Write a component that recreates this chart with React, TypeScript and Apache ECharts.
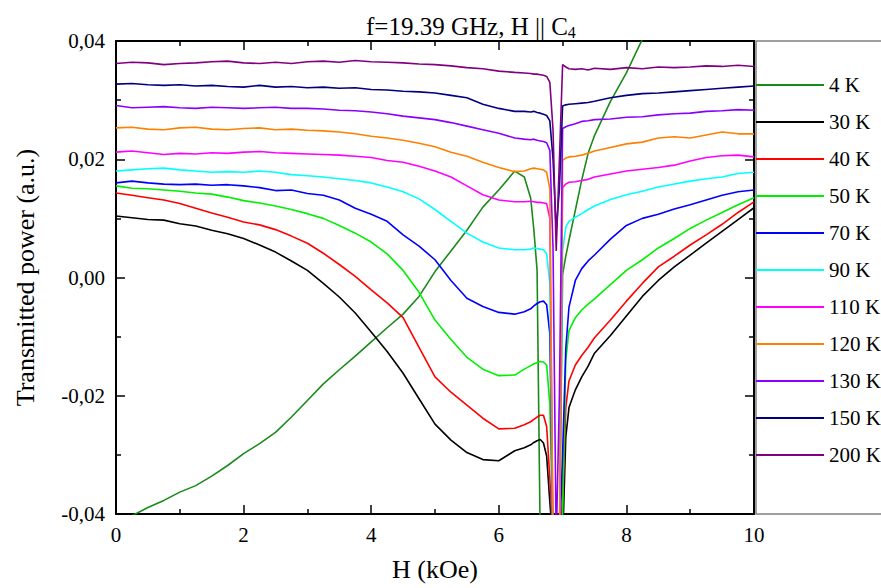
import React, { useEffect, useRef } from "react";
import * as echarts from "echarts";

// Magnetic field H (kOe)
const H = [
  0, 0.25, 0.5, 0.75, 1,
  1.25, 1.5, 1.75, 2, 2.25,
  2.5, 2.75, 3, 3.25, 3.5,
  3.75, 4, 4.25, 4.5, 4.75,
  5, 5.25, 5.5, 5.75, 6,
  6.25,
  6.4, 6.5, 6.55, 6.6, 6.65, 6.7, 6.75, 6.8, 6.85, 6.9, 6.95, 7, 7.05, 7.1,
  7.2, 7.3, 7.4, 7.5,
  7.75, 8, 8.25, 8.5, 8.75, 9, 9.25, 9.5, 9.75, 10,
];

const T4 = [
  -0.0425, -0.0403, -0.0389, -0.0377, -0.0363,
  -0.0352, -0.0336, -0.0318, -0.0298, -0.0281,
  -0.0262, -0.0236, -0.0208, -0.018, -0.0156,
  -0.0133, -0.0109, -0.0085, -0.0062, -0.0032,
  0.001, 0.0045, 0.008, 0.0119, 0.0148,
  0.018,
  0.017, 0.0134, 0.008, 0.0012, -0.045, -0.045, -0.045, -0.045, -0.045, -0.045, -0.045, 0.0005, 0.0036, 0.0063,
  0.0114, 0.0165, 0.021, 0.024,
  0.0298, 0.0346, 0.0403, 0.046, null, null, null, null, null, null,
];
const T30 = [
  0.0104, 0.0101, 0.0098, 0.0097, 0.0091,
  0.0087, 0.008, 0.0074, 0.0066, 0.0055,
  0.0043, 0.0028, 0.0012, -0.001, -0.0033,
  -0.006, -0.0092, -0.0125, -0.0162, -0.0205,
  -0.0248, -0.0275, -0.0296, -0.0308, -0.031,
  -0.0293,
  -0.0288, -0.0283, -0.0279, -0.0276, -0.0274, -0.028, -0.0302, -0.038, -0.045, -0.045, -0.045, -0.045, -0.027, -0.022,
  -0.019, -0.0168, -0.015, -0.0128,
  -0.0098, -0.0065, -0.0032, -0.0005, 0.0018, 0.0038, 0.0058, 0.0078, 0.0098, 0.0118,
];
const T40 = [
  0.0143, 0.0139, 0.0135, 0.0131, 0.0125,
  0.0117, 0.0109, 0.0102, 0.0094, 0.0089,
  0.0081, 0.007, 0.0058, 0.0041, 0.0022,
  0.0002, -0.0021, -0.0043, -0.0068, -0.0118,
  -0.0168, -0.0194, -0.0216, -0.0238, -0.0256,
  -0.0255,
  -0.0249, -0.0244, -0.024, -0.0236, -0.0233, -0.0233, -0.0252, -0.034, -0.045, -0.045, -0.045, -0.038, -0.022, -0.0175,
  -0.0148, -0.0132, -0.0118, -0.0102,
  -0.0072, -0.004, -0.001, 0.0018, 0.0036, 0.0055, 0.0072, 0.009, 0.011, 0.0128,
];
const T50 = [
  0.0155, 0.0151, 0.015, 0.0148, 0.0146,
  0.0143, 0.0141, 0.0136, 0.013, 0.0126,
  0.0121, 0.0115, 0.0108, 0.01, 0.0088,
  0.0075, 0.006, 0.004, 0.0012, -0.0025,
  -0.0072, -0.0105, -0.0135, -0.0155, -0.0166,
  -0.0165,
  -0.0155, -0.0149, -0.0146, -0.0144, -0.0142, -0.0143, -0.0148, -0.0215, -0.045, -0.045, -0.045, -0.04, -0.014, -0.009,
  -0.0068, -0.0055, -0.0045, -0.0036,
  -0.0012, 0.0012, 0.003, 0.005, 0.0066, 0.0083, 0.0097, 0.011, 0.0123, 0.0135,
];
const T70 = [
  0.016, 0.0163, 0.016, 0.0158, 0.0157,
  0.0158, 0.0156, 0.0157, 0.0155, 0.0152,
  0.0147, 0.0148, 0.0142, 0.0139, 0.0131,
  0.0117, 0.0107, 0.0095, 0.0072, 0.0053,
  0.003, -0.0005, -0.0035, -0.0049, -0.0059,
  -0.0062,
  -0.0058, -0.0053, -0.0048, -0.0044, -0.0041, -0.004, -0.0046, -0.0095, -0.045, -0.045, -0.045, -0.03, -0.012, -0.005,
  -0.0005, 0.0015, 0.0028, 0.0038,
  0.0065, 0.0088, 0.01, 0.0107, 0.0116, 0.0123, 0.0131, 0.0139, 0.0145, 0.0148,
];
const T90 = [
  0.018, 0.0182, 0.0184, 0.0185, 0.0182,
  0.018, 0.0178, 0.0179, 0.0178, 0.018,
  0.0178, 0.0174, 0.0172, 0.017, 0.0167,
  0.0164, 0.016, 0.0153, 0.0145, 0.0133,
  0.0115, 0.0095, 0.0075, 0.006, 0.005,
  0.0047,
  0.0047, 0.0048, 0.005, 0.0049, 0.0048, 0.0047, 0.004, -0.001, -0.045, -0.045, -0.045, 0.0045, 0.0085, 0.0095,
  0.0102, 0.0108, 0.0115, 0.0121,
  0.0132, 0.014, 0.0146, 0.0153, 0.0158, 0.0163, 0.0167, 0.017, 0.0176, 0.0178,
];
const T110 = [
  0.0212, 0.0214, 0.0211, 0.0208, 0.021,
  0.0209, 0.0211, 0.021, 0.0212, 0.0213,
  0.0211, 0.021, 0.0209, 0.0208, 0.0207,
  0.0205, 0.0203, 0.0198, 0.0195, 0.0188,
  0.018, 0.017, 0.0155, 0.014, 0.0131,
  0.0128,
  0.0128, 0.0129, 0.0128, 0.0127, 0.0127, 0.0126, 0.0125, 0.01, -0.045, -0.045, -0.045, 0.0152, 0.0158, 0.0161,
  0.0162, 0.0164, 0.0166, 0.017,
  0.0175, 0.018, 0.0183, 0.0186, 0.019, 0.0197, 0.0203, 0.0206, 0.0207, 0.0204,
];
const T120 = [
  0.0253, 0.0254, 0.0251, 0.025, 0.0253,
  0.0254, 0.0251, 0.025, 0.0252, 0.0253,
  0.025, 0.0251, 0.0249, 0.0248, 0.0246,
  0.0243, 0.0239, 0.0236, 0.0232, 0.0227,
  0.0221, 0.0212, 0.0205, 0.0195, 0.0186,
  0.0179,
  0.018, 0.0184, 0.0185, 0.0184, 0.0183, 0.0182, 0.0178, 0.015, -0.045, -0.045, -0.045, 0.0198, 0.0202, 0.0204,
  0.0205, 0.0207, 0.021, 0.0214,
  0.022, 0.0226, 0.0229, 0.0236, 0.0238, 0.0236, 0.0241, 0.0246, 0.0243, 0.0243,
];
const T130 = [
  0.0291, 0.0287, 0.0288, 0.0289, 0.0287,
  0.0286, 0.0288, 0.0287, 0.0286, 0.0287,
  0.0288, 0.0286, 0.0286, 0.0285, 0.0283,
  0.0282, 0.028, 0.0277, 0.0273, 0.027,
  0.0267, 0.0262, 0.0256, 0.025, 0.0244,
  0.0236,
  0.0234, 0.0233, 0.0234, 0.0232, 0.0231, 0.023, 0.0228, 0.0215, 0.005, -0.045, -0.02, 0.0252, 0.0255, 0.0257,
  0.026, 0.0264, 0.0265, 0.0267,
  0.0268, 0.0271, 0.0272, 0.0275, 0.0277, 0.0278, 0.0281, 0.0282, 0.0284, 0.0283,
];
const T150 = [
  0.0327, 0.0328, 0.0326, 0.0325, 0.0326,
  0.0324, 0.0325, 0.0323, 0.0322, 0.0325,
  0.0322, 0.0323, 0.0321, 0.0322, 0.032,
  0.0321, 0.0318, 0.0317, 0.0315, 0.0314,
  0.0312, 0.0308, 0.0304, 0.0293, 0.0286,
  0.0281,
  0.0281, 0.028, 0.0281, 0.0279, 0.0278, 0.0276, 0.0274, 0.0265, 0.02, 0.008, 0.015, 0.029, 0.0292, 0.0293,
  0.0294, 0.0295, 0.0296, 0.0298,
  0.0304, 0.0308, 0.0311, 0.0312, 0.0314, 0.0316, 0.0318, 0.032, 0.0322, 0.0324,
];
const T200 = [
  0.0362, 0.0364, 0.0363, 0.036, 0.0362,
  0.0363, 0.0365, 0.0366, 0.0363, 0.0362,
  0.0364, 0.0362, 0.0365, 0.0366, 0.0364,
  0.0367, 0.0365, 0.0364, 0.0363, 0.0361,
  0.036, 0.0358, 0.0355, 0.0353, 0.0349,
  0.0347,
  0.0346, 0.0345, 0.0344, 0.0344, 0.0343, 0.0342, 0.034, 0.033, 0.025, 0.0045, 0.02, 0.036, 0.0356, 0.0353,
  0.0352, 0.0353, 0.0351, 0.0354,
  0.0352, 0.0355, 0.0353, 0.0356, 0.0355, 0.0356, 0.0358, 0.0357, 0.0359, 0.0357,
];

const LABELS = ["4 K", "30 K", "40 K", "50 K", "70 K", "90 K", "110 K", "120 K", "130 K", "150 K", "200 K"];
const COLORS = ["#1a8a1a", "#000000", "#ff0000", "#00f000", "#0000ff", "#00ffff", "#ff00ff", "#ff8000", "#8a00ff", "#000080", "#800080"];
const SETS = [T4, T30, T40, T50, T70, T90, T110, T120, T130, T150, T200];

const X_MIN = 0;
const X_MAX = 10;
const X_STEP = 2;
const Y_MIN = -0.04;
const Y_MAX = 0.04;
const Y_STEP = 0.02;

const FONT = "'Liberation Serif', 'Times New Roman', serif";

export default function App() {
  const ref = useRef<HTMLDivElement>(null);

  useEffect(() => {
    if (!ref.current) return;
    const chart = echarts.init(ref.current, null, { renderer: "svg" });

    const series = SETS.map((ys, i) => ({
      name: LABELS[i],
      type: "line",
      xAxisIndex: 0,
      yAxisIndex: 0,
      data: H.map((h, j) => [h, ys[j]]).filter((p) => p[1] !== null && p[1] !== undefined),
      symbol: "none",
      showSymbol: false,
      clip: true,
      lineStyle: { color: COLORS[i], width: 1.6 },
      itemStyle: { color: COLORS[i] },
      emphasis: { disabled: true },
    }));

    const tickStyle = { color: "#000", width: 1.5 };
    const commonX = {
      type: "value",
      min: X_MIN,
      max: X_MAX,
      interval: X_STEP,
      axisLine: { show: true, onZero: false, lineStyle: { color: "#000", width: 2 } },
      axisTick: { show: true, inside: true, length: 9, lineStyle: tickStyle },
      minorTick: { show: true, splitNumber: 2, length: 5, lineStyle: tickStyle },
      splitLine: { show: false },
      minorSplitLine: { show: false },
    };
    const commonY = {
      type: "value",
      min: Y_MIN,
      max: Y_MAX,
      interval: Y_STEP,
      axisLine: { show: true, onZero: false, lineStyle: { color: "#000", width: 2 } },
      axisTick: { show: true, inside: true, length: 9, lineStyle: tickStyle },
      minorTick: { show: true, splitNumber: 2, length: 5, lineStyle: tickStyle },
      splitLine: { show: false },
      minorSplitLine: { show: false },
    };

    chart.setOption({
      animation: false,
      backgroundColor: "#ffffff",
      title: {
        text: "f=19.39 GHz, H || C{s|4}",
        left: 361,
        top: 7,
        textStyle: {
          fontFamily: FONT,
          fontSize: 25,
          fontWeight: "normal",
          color: "#000",
          rich: {
            s: { fontFamily: FONT, fontSize: 16, color: "#000", padding: [12, 0, 0, 0] },
          },
        },
      },
      grid: { left: 116, right: 127, top: 41, bottom: 74, containLabel: false },
      legend: {
        orient: "vertical",
        left: 756,
        top: 73,
        padding: 0,
        icon: "rect",
        itemWidth: 68,
        itemHeight: 2,
        itemGap: 13,
        selectedMode: false,
        data: LABELS,
        textStyle: { fontFamily: FONT, fontSize: 21, color: "#000", lineHeight: 24 },
      },
      xAxis: [
        {
          ...commonX,
          position: "bottom",
          axisLabel: { show: true, fontFamily: FONT, fontSize: 21, color: "#000", margin: 10 },
          name: "H (kOe)",
          nameLocation: "middle",
          nameGap: 42,
          nameTextStyle: { fontFamily: FONT, fontSize: 26, color: "#000" },
        },
        {
          ...commonX,
          position: "top",
          axisLabel: { show: false },
        },
      ],
      yAxis: [
        {
          ...commonY,
          position: "left",
          axisLabel: {
            show: true,
            fontFamily: FONT,
            fontSize: 21,
            color: "#000",
            margin: 11,
            formatter: (v: number) => (Math.abs(v) < 1e-9 ? "0,00" : v.toFixed(2).replace(".", ",")),
          },
          name: "Transmitted power (a.u.)",
          nameLocation: "middle",
          nameGap: 78,
          nameTextStyle: { fontFamily: FONT, fontSize: 26, color: "#000" },
        },
        {
          ...commonY,
          position: "right",
          axisLabel: { show: false },
        },
      ],
      graphic: [
        {
          type: "rect",
          silent: true,
          z: -1,
          shape: { x: 756, y: 41, width: 140, height: 473 },
          style: { fill: "none", stroke: "#808080", lineWidth: 1.5 },
        },
      ],
      series,
    });

    return () => {
      chart.dispose();
    };
  }, []);

  return (
    <div
      ref={ref}
      style={{ position: "fixed", left: 0, top: 0, width: 881, height: 588, background: "#fff" }}
    />
  );
}
